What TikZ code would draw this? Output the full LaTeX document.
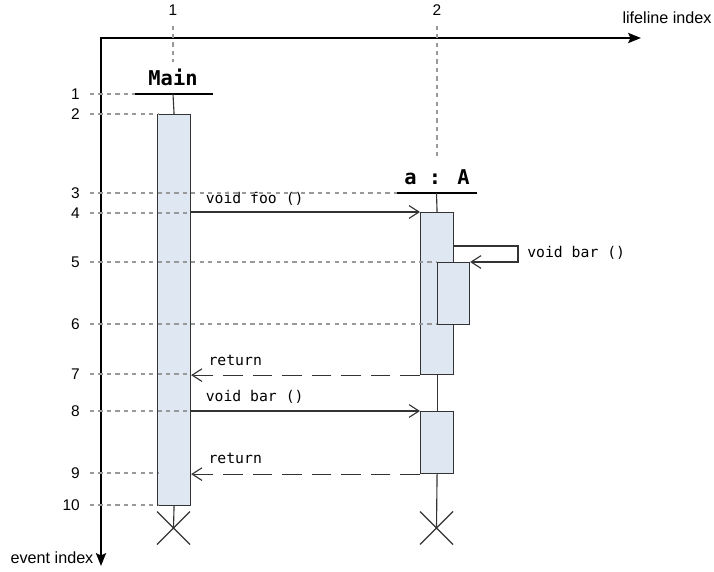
\documentclass[tikz,border=0pt]{standalone}
\usepackage{fontspec}
\setmainfont{Liberation Sans}
\newfontfamily\codefont{DejaVu Sans Mono}
\usetikzlibrary{arrows.meta,positioning}
\definecolor{actfill}{HTML}{DFE7F2}
\definecolor{linec}{HTML}{333333}
\definecolor{guidegray}{HTML}{999999}
\newcommand{\pxu}{0.025cm}
\tikzset{%
	axisline/.style  = {line width=2pt, {Stealth[length=9pt,width=7pt,inset=1.5pt]}-{Stealth[length=9pt,width=7pt,inset=1.5pt]}},
	guideline/.style = {draw=guidegray, line width=0.8pt, dash pattern=on 3pt off 3pt},
	lifeline/.style  = {draw=linec, line width=0.8pt},
	headbar/.style   = {draw=black, line width=2pt},
	lifehead/.style  = {font=\codefont\bfseries\fontsize{14.5}{16}\selectfont, inner sep=0pt},
	act/.style       = {draw=linec, fill=actfill, line width=0.8pt, inner sep=0pt, anchor=north west, minimum width=33*\pxu, minimum height=#1*\pxu},
	msgcall/.style   = {draw=linec, line width=0.8pt, -{Straight Barb[length=7pt,width=9pt]}},
	msgreply/.style  = {msgcall, dash pattern=on 14pt off 7pt},
	msglabel/.style  = {font=\codefont\fontsize{10.5}{12}\selectfont, anchor=west, inner sep=0pt},
	idxlabel/.style  = {font=\fontsize{11}{13}\selectfont, inner sep=0pt},
}

\begin{document}
\begin{tikzpicture}[x=\pxu, y=-\pxu]
	\useasboundingbox (0,0) rectangle (714,571);
	
	% axes
	\coordinate (origin) at (101,38);
	\coordinate (xend) at (641,38);
	\coordinate (yend) at (101,566);
	\draw[axisline] (xend) -- (origin) -- (yend);
	\node[idxlabel, font=\fontsize{11.5}{13}\selectfont] (xlab) at (667,18) {lifeline index};
	\node[idxlabel, font=\fontsize{11.5}{13}\selectfont] (ylab) at (52,558) {event index};
	
	% lifeline heads
	\node[idxlabel] (ll1) at (173,10) {1};
	\node[idxlabel] (ll2) at (437,10) {2};
	\node[lifehead] (mainname) at (173,77) {Main};
	\node[lifehead] (aname) at (437,177) {a : A};
	\coordinate (mainbar) at (173,94);
	\coordinate (abar) at (436.5,193);
	\draw[headbar] (135,94) -- (213,94);
	\draw[headbar] (397,193) -- (477,193);
	
	% activations
	\node[act=391] (mainact) at (157,114) {};
	\node[act=162] (aact1) at (420,212) {};
	\node[act=62, minimum width=32*\pxu] (anest) at (437,262) {};
	\node[act=62] (aact2) at (420,411) {};
	
	% lifelines and destruction
	\coordinate (maincross) at (173.5,528);
	\coordinate (across) at (436.5,528);
	\draw[lifeline] (mainbar) -- (mainact.north);
	\draw[lifeline] (mainact.south) -- (maincross);
	\draw[lifeline] (abar) -- (aact1.north);
	\draw[lifeline] (aact1.south) -- (aact2.north);
	\draw[lifeline] (aact2.south) -- (across);
	\foreach \c in {maincross,across}
		\draw[lifeline] (\c) ++(-16.5,-16.5) -- ++(33,33) (\c) ++(-16.5,16.5) -- ++(33,-33);
	
	% messages
	\draw[msgcall] (mainact.east |- aact1.north) -- (aact1.north west) node[msglabel, pos=0, xshift=10pt, yshift=9.2pt] {void foo ()};
	\draw[msgcall] (aact1.east |- 0,246) -- (518,246) -- (518,262) -- (anest.north east);
	\node[msglabel] (selflab) at (527,253) {void bar ()};
	\draw[msgreply] (aact1.south west) -- (mainact.east |- aact1.south) node[msglabel, pos=1, xshift=12pt, yshift=10.7pt] {return};
	\draw[msgcall] (mainact.east |- aact2.north) -- (aact2.north west) node[msglabel, pos=0, xshift=10pt, yshift=10pt] {void bar ()};
	\draw[msgreply] (aact2.south west) -- (mainact.east |- aact2.south) node[msglabel, pos=1, xshift=12pt, yshift=11.4pt] {return};
	
	% index guides
	\draw[guideline] (ll1.south) ++(0,10) -- (173,62);
	\draw[guideline] (ll2.south) ++(0,10) -- (437,160);
	\foreach \n/\y/\x in {1/94/135, 2/114/158, 3/193/397, 4/213/190, 5/262/437, 6/324/437, 7/374/190, 8/411/190, 9/473/158, 10/505/158} {
		\node[idxlabel, anchor=east] (ev\n) at (80,\y) {\n};
		\draw[guideline] (90,\y) -- (\x,\y);
	}
\end{tikzpicture}
\end{document}
